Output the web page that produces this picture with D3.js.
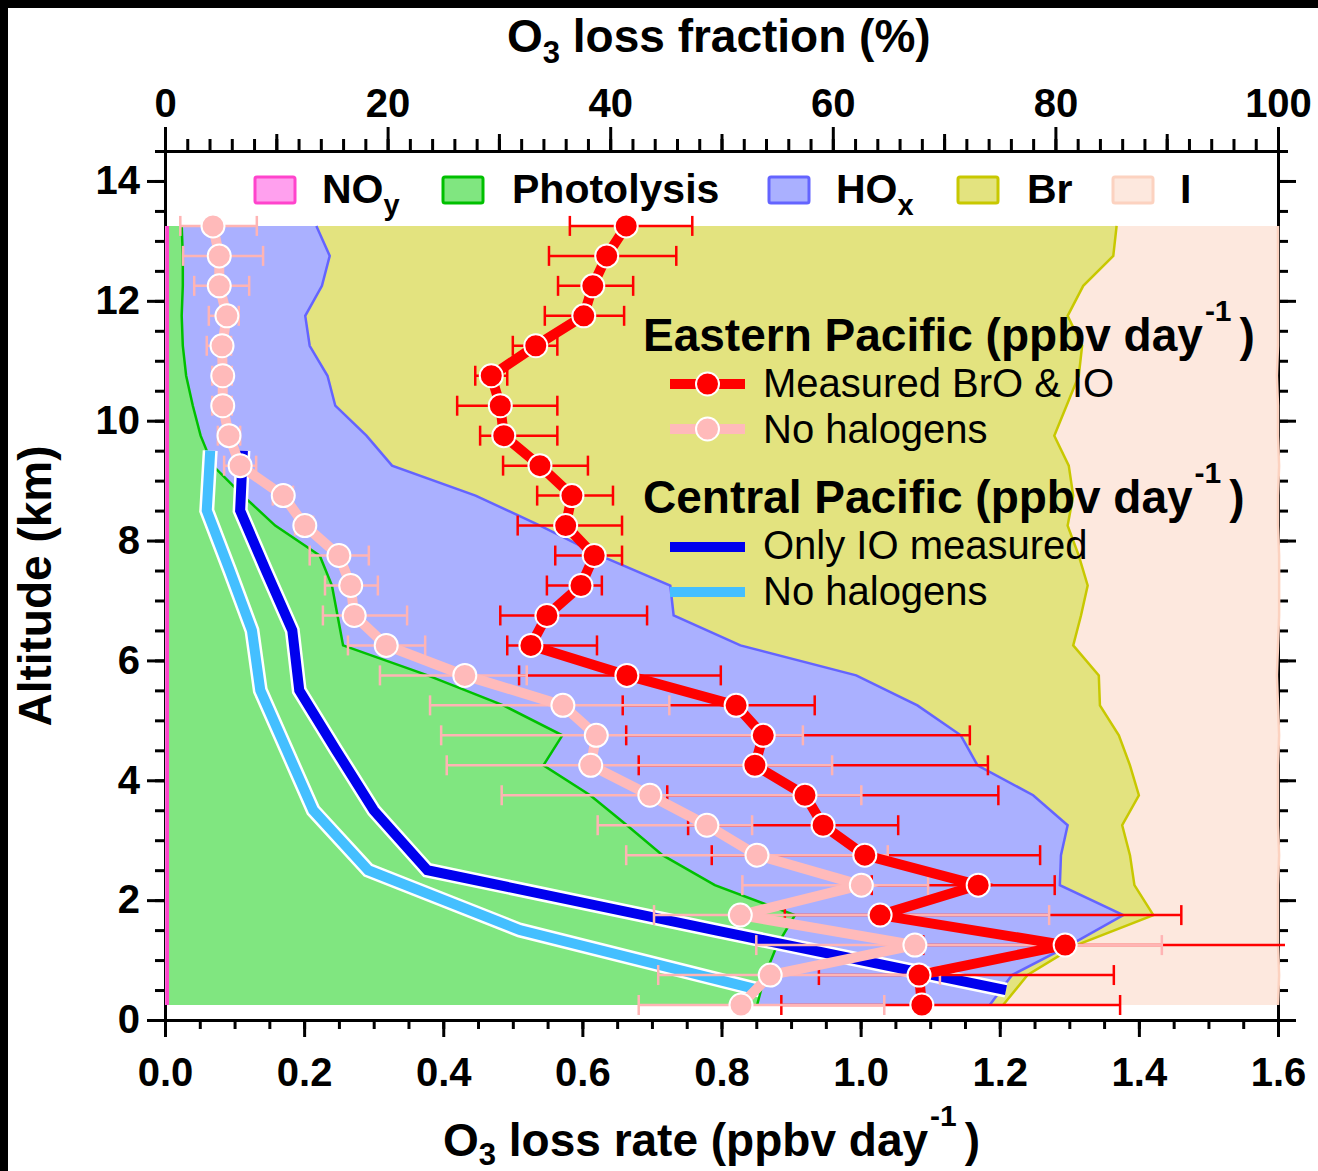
<!DOCTYPE html>
<html>
<head>
<meta charset="utf-8">
<script src="https://cdn.jsdelivr.net/npm/d3@7"></script>
<style>
  html, body { margin: 0; padding: 0; background: #fff; }
  svg { display: block; }
  text { font-family: "Liberation Sans", Arial, Helvetica, sans-serif; fill: #000; }
</style>
</head>
<body>
<svg id="chart" width="1318" height="1171"></svg>
<script>
// ---- altitude bins (km) ----
const altitudes = [13.25, 12.75, 12.25, 11.75, 11.25, 10.75, 10.25, 9.75, 9.25, 8.75, 8.25, 7.75, 7.25,
                   6.75, 6.25, 5.75, 5.25, 4.75, 4.25, 3.75, 3.25, 2.75, 2.25, 1.75, 1.25, 0.75, 0.25];

// ---- O3 loss fraction by process (%) ----
const fracNOy = [0.2, 0.2, 0.2, 0.2, 0.2, 0.2, 0.2, 0.2, 0.2, 0.2, 0.2, 0.2, 0.2,
                 0.2, 0.2, 0.2, 0.2, 0.2, 0.2, 0.2, 0.2, 0.2, 0.2, 0.2, 0.2, 0.2, 0.2];
const fracPhotolysis = [1.3, 1.4, 1.4, 1.3, 1.4, 1.7, 2.3, 3.0, 4.1, 6.8, 9.7, 13.7, 14.8,
                        15.3, 15.8, 23.4, 30.2, 35.5, 33.8, 38.0, 41.3, 44.5, 49.2, 56.4, 54.8, 53.7, 53.0];
const fracHOx = [12.1, 13.2, 12.5, 11.1, 11.4, 12.7, 12.8, 14.9, 16.1, 20.9, 23.8, 25.2, 30.4,
                 30.2, 35.7, 38.5, 37.2, 35.8, 39.0, 39.8, 39.6, 35.8, 31.0, 29.5, 26.3, 22.2, 20.9];
const fracBr = [71.9, 70.4, 68.4, 68.5, 69.4, 67.5, 65.7, 61.8, 60.8, 53.7, 47.4, 43.0, 37.5,
                36.6, 29.9, 21.8, 16.4, 14.2, 13.7, 9.5, 4.9, 6.2, 6.7, 2.7, 0.6, 1.4, 1.2];
const fracI = [14.5, 14.8, 17.5, 18.9, 17.6, 17.8, 19.0, 20.1, 18.9, 18.4, 18.9, 18.0, 17.2,
               17.8, 18.4, 16.0, 16.0, 14.4, 13.3, 12.5, 14.0, 13.4, 12.9, 11.2, 18.1, 22.6, 24.7];

// ---- Eastern Pacific O3 loss rate (ppbv/day): value, lower and upper error ----
const eastMeasured = [0.663, 0.635, 0.615, 0.602, 0.533, 0.469, 0.482, 0.487, 0.539, 0.585, 0.576, 0.617, 0.598,
                      0.549, 0.526, 0.664, 0.821, 0.860, 0.848, 0.920, 0.946, 1.006, 1.169, 1.028, 1.294, 1.084, 1.088];
const eastMeasuredLo = [0.582, 0.552, 0.565, 0.546, 0.500, 0.446, 0.420, 0.453, 0.486, 0.535, 0.507, 0.561, 0.549,
                        0.482, 0.492, 0.509, 0.658, 0.663, 0.681, 0.722, 0.752, 0.786, 1.016, 0.891, 1.090, 0.940, 0.886];
const eastMeasuredHi = [0.758, 0.735, 0.673, 0.660, 0.564, 0.492, 0.564, 0.564, 0.608, 0.644, 0.657, 0.657, 0.628,
                        0.693, 0.621, 0.799, 0.934, 1.157, 1.183, 1.198, 1.054, 1.258, 1.279, 1.461, 1.660, 1.364, 1.373];
const eastNoHal = [0.069, 0.078, 0.078, 0.089, 0.082, 0.083, 0.083, 0.092, 0.108, 0.170, 0.201, 0.250, 0.267,
                   0.272, 0.318, 0.431, 0.572, 0.620, 0.612, 0.697, 0.779, 0.851, 1.001, 0.827, 1.078, 0.870, 0.828];
const eastNoHalLo = [0.022, 0.026, 0.042, 0.063, 0.060, 0.068, 0.068, 0.076, 0.085, 0.155, 0.187, 0.208, 0.230,
                     0.227, 0.263, 0.309, 0.381, 0.397, 0.405, 0.484, 0.622, 0.663, 0.830, 0.703, 0.850, 0.709, 0.681];
const eastNoHalHi = [0.132, 0.141, 0.121, 0.106, 0.095, 0.096, 0.096, 0.108, 0.131, 0.184, 0.213, 0.293, 0.306,
                     0.348, 0.374, 0.520, 0.725, 0.917, 0.959, 1.001, 0.844, 1.039, 1.097, 1.271, 1.433, 1.114, 1.034];

// ---- Central Pacific O3 loss rate (ppbv/day) ----
const centralAltitudes = [9.5, 8.5, 7.5, 6.5, 5.5, 4.5, 3.5, 2.5, 1.5, 0.5];
const centralIO = [0.112, 0.108, 0.145, 0.183, 0.193, 0.246, 0.300, 0.377, 0.790, 1.209];
const centralNoHal = [0.065, 0.060, 0.093, 0.125, 0.137, 0.175, 0.213, 0.292, 0.510, 0.855];

// ---- axis ticks ----
const rateTicks = [0, 0.2, 0.4, 0.6, 0.8, 1.0, 1.2, 1.4, 1.6];
const pctTicks = [0, 20, 40, 60, 80, 100];
const altTicks = [0, 2, 4, 6, 8, 10, 12, 14];

const processNames = ["NOy", "Photolysis", "HOx", "Br", "I"];
const processFill = ["#ffa0ee", "#80e680", "#aab0ff", "#e3e37f", "#fde8de"];
const processEdge = ["#ff44cc", "#00c000", "#6464ff", "#c8c800", "#fcd2c0"];

const svg = d3.select("#chart");
const x = d3.scaleLinear().domain([0, 1.6]).range([165, 1278]);
const xPct = d3.scaleLinear().domain([0, 100]).range([165, 1278]);
const y = d3.scaleLinear().domain([0, 14.5]).range([1020, 151]);

svg.append("rect").attr("width", 1318).attr("height", 1171).attr("fill", "#fff");
// dark frame along the top and left edges
svg.append("rect").attr("x", 0).attr("y", 0).attr("width", 1318).attr("height", 8).attr("fill", "#000");
svg.append("rect").attr("x", 0).attr("y", 0).attr("width", 8).attr("height", 1171).attr("fill", "#000");

// ---- axes ----
function styleAxis(g, withText) {
  g.selectAll("path, line").attr("stroke", "#000").attr("stroke-width", 3);
  g.selectAll("text").attr("font-size", 40).attr("font-weight", "bold").attr("fill", "#000")
    .attr("font-family", '"Liberation Sans", Arial, sans-serif');
  if (!withText) g.selectAll("text").remove();
}
const fmtRate = d3.format(".1f");
// bottom: loss rate
svg.append("g").attr("transform", "translate(0,1020)")
  .call(d3.axisBottom(x).tickValues(d3.range(0, 1.6001, 0.05)).tickSize(9).tickSizeOuter(0).tickFormat(""))
  .call(g => styleAxis(g, false));
svg.append("g").attr("transform", "translate(0,1020)")
  .call(d3.axisBottom(x).tickValues(rateTicks).tickSize(17).tickSizeOuter(0).tickPadding(21).tickFormat(fmtRate))
  .call(g => styleAxis(g, true));
// top: loss fraction
svg.append("g").attr("transform", `translate(0,${y(14.5)})`)
  .call(d3.axisTop(xPct).tickValues(d3.range(0, 100.1, 2)).tickSize(12).tickSizeOuter(0).tickFormat(""))
  .call(g => styleAxis(g, false));
svg.append("g").attr("transform", `translate(0,${y(14.5)})`)
  .call(d3.axisTop(xPct).tickValues(d3.range(10, 100, 20)).tickSize(17).tickSizeOuter(0).tickFormat(""))
  .call(g => styleAxis(g, false));
svg.append("g").attr("transform", `translate(0,${y(14.5)})`)
  .call(d3.axisTop(xPct).tickValues(pctTicks).tickSize(24).tickSizeOuter(0).tickPadding(10).tickFormat(d3.format("d")))
  .call(g => styleAxis(g, true));
// left: altitude
svg.append("g").attr("transform", "translate(165,0)")
  .call(d3.axisLeft(y).tickValues(d3.range(0, 14.51, 0.5)).tickSize(10).tickSizeOuter(0).tickFormat(""))
  .call(g => styleAxis(g, false));
svg.append("g").attr("transform", "translate(165,0)")
  .call(d3.axisLeft(y).tickValues(altTicks).tickSize(18).tickSizeOuter(0).tickPadding(7).tickFormat(d3.format("d")))
  .call(g => styleAxis(g, true));
// right
svg.append("g").attr("transform", "translate(1278,0)")
  .call(d3.axisRight(y).tickValues(d3.range(0, 14.51, 0.5)).tickSize(10).tickSizeOuter(0).tickFormat(""))
  .call(g => styleAxis(g, false));
svg.append("g").attr("transform", "translate(1278,0)")
  .call(d3.axisRight(y).tickValues(altTicks).tickSize(18).tickSizeOuter(0).tickFormat(""))
  .call(g => styleAxis(g, false));

// ---- stacked loss fractions ----
const rows = altitudes.map((a, i) => ({
  alt: a, NOy: fracNOy[i], Photolysis: fracPhotolysis[i], HOx: fracHOx[i], Br: fracBr[i], I: fracI[i]
}));
const stacked = d3.stack().keys(processNames)(rows);
const area = d3.area().y(d => y(d.data.alt)).x0(d => xPct(d[0])).x1(d => xPct(d[1]));
const edge = d3.line().y(d => y(d.data.alt)).x(d => xPct(d[1]));
const gArea = svg.append("g");
stacked.forEach((s, i) => {
  gArea.append("path").attr("d", area(s)).attr("fill", processFill[i]).attr("stroke", "none");
});
stacked.forEach((s, i) => {
  gArea.append("path").attr("d", edge(s)).attr("fill", "none")
    .attr("stroke", processEdge[i]).attr("stroke-width", i === 0 ? 3.5 : 2.5);
});

// ---- clip for loss-rate marks ----
svg.append("clipPath").attr("id", "plotClip")
  .append("rect").attr("x", 150).attr("y", 140).attr("width", 1135).attr("height", 900);

const gMarks = svg.append("g").attr("clip-path", "url(#plotClip)");

// ---- Central Pacific profiles ----
const centralLine = d3.line().x(d => x(d[0])).y(d => y(d[1]));
function outlinedLine(values, alts, color) {
  const pts = values.map((v, i) => [v, alts[i]]);
  gMarks.append("path").attr("d", centralLine(pts)).attr("fill", "none")
    .attr("stroke", "#fff").attr("stroke-width", 15).attr("stroke-linejoin", "miter");
  gMarks.append("path").attr("d", centralLine(pts)).attr("fill", "none")
    .attr("stroke", color).attr("stroke-width", 10).attr("stroke-linejoin", "miter");
}
outlinedLine(centralNoHal, centralAltitudes, "#44bfff");
outlinedLine(centralIO, centralAltitudes, "#0000ee");

// ---- Eastern Pacific error bars ----
function errorBars(lo, hi, color) {
  const g = gMarks.append("g").attr("stroke", color).attr("stroke-width", 2.5);
  altitudes.forEach((a, i) => {
    g.append("line").attr("x1", x(lo[i])).attr("x2", x(hi[i])).attr("y1", y(a)).attr("y2", y(a));
    [lo[i], hi[i]].forEach(v => {
      g.append("line").attr("x1", x(v)).attr("x2", x(v)).attr("y1", y(a) - 10).attr("y2", y(a) + 10);
    });
  });
}
errorBars(eastMeasuredLo, eastMeasuredHi, "#ff0000");
errorBars(eastNoHalLo, eastNoHalHi, "#ffb4b4");

// ---- Eastern Pacific profiles ----
function profile(values, color) {
  const pts = values.map((v, i) => [v, altitudes[i]]);
  gMarks.append("path").attr("d", centralLine(pts)).attr("fill", "none")
    .attr("stroke", color).attr("stroke-width", 10).attr("stroke-linejoin", "miter");
  gMarks.selectAll(null).data(pts).enter().append("circle")
    .attr("cx", d => x(d[0])).attr("cy", d => y(d[1])).attr("r", 11.5)
    .attr("fill", color).attr("stroke", "#fff").attr("stroke-width", 2);
}
profile(eastNoHal, "#ffbaba");
profile(eastMeasured, "#ff0000");

// ---- process legend ----
const legendSwatchX = [255, 443, 769, 958, 1113];
const legendTextX = [322, 512, 836, 1027, 1180];
const gLeg = svg.append("g");
processNames.forEach((n, i) => {
  gLeg.append("rect").attr("x", legendSwatchX[i]).attr("y", 177).attr("width", 40).attr("height", 26)
    .attr("rx", 2).attr("fill", processFill[i]).attr("stroke", processEdge[i]).attr("stroke-width", 3);
});
const legendLabels = [["NO", "y"], ["Photolysis", ""], ["HO", "x"], ["Br", ""], ["I", ""]];
legendLabels.forEach((lab, i) => {
  const t = gLeg.append("text").attr("x", legendTextX[i]).attr("y", 203)
    .attr("font-size", 41).attr("font-weight", "bold");
  t.append("tspan").text(lab[0]);
  if (lab[1]) t.append("tspan").attr("font-size", 29).attr("dy", 12).text(lab[1]);
});

// ---- profile legend ----
function header(txt, yb) {
  const t = svg.append("text").attr("x", 643).attr("y", yb).attr("font-size", 46).attr("font-weight", "bold");
  t.append("tspan").text(txt + " (ppbv day");
  t.append("tspan").attr("font-size", 30).attr("dy", -30).attr("dx", 2).text("-1");
  t.append("tspan").attr("dy", 30).attr("dx", 8).text(")");
}
header("Eastern Pacific", 351);
header("Central Pacific", 513);

function sampleEntry(yc, color, label, withDot, yb) {
  svg.append("line").attr("x1", 670).attr("x2", 745).attr("y1", yc).attr("y2", yc)
    .attr("stroke", color).attr("stroke-width", 10);
  if (withDot) svg.append("circle").attr("cx", 707.5).attr("cy", yc).attr("r", 11.5)
    .attr("fill", color).attr("stroke", "#fff").attr("stroke-width", 2);
  svg.append("text").attr("x", 763).attr("y", yb).attr("font-size", 40).text(label);
}
sampleEntry(384, "#ff0000", "Measured BrO & IO", true, 397);
sampleEntry(429, "#ffbaba", "No halogens", true, 443);
sampleEntry(547, "#0000ee", "Only IO measured", false, 559);
sampleEntry(592, "#44bfff", "No halogens", false, 605);

// ---- axis titles ----
const topTitle = svg.append("text").attr("x", 507).attr("y", 52).attr("font-size", 46).attr("font-weight", "bold");
topTitle.append("tspan").text("O");
topTitle.append("tspan").attr("font-size", 31).attr("dy", 11).text("3");
topTitle.append("tspan").attr("dy", -11).text(" loss fraction (%)");

const botTitle = svg.append("text").attr("x", 443).attr("y", 1156).attr("font-size", 46).attr("font-weight", "bold");
botTitle.append("tspan").text("O");
botTitle.append("tspan").attr("font-size", 31).attr("dy", 9).text("3");
botTitle.append("tspan").attr("dy", -9).text(" loss rate (ppbv day");
botTitle.append("tspan").attr("font-size", 30).attr("dy", -30).attr("dx", 2).text("-1");
botTitle.append("tspan").attr("dy", 30).attr("dx", 8).text(")");

svg.append("text").attr("transform", "translate(51,586) rotate(-90)").attr("text-anchor", "middle")
  .attr("font-size", 46).attr("font-weight", "bold").text("Altitude (km)");
</script>
</body>
</html>
